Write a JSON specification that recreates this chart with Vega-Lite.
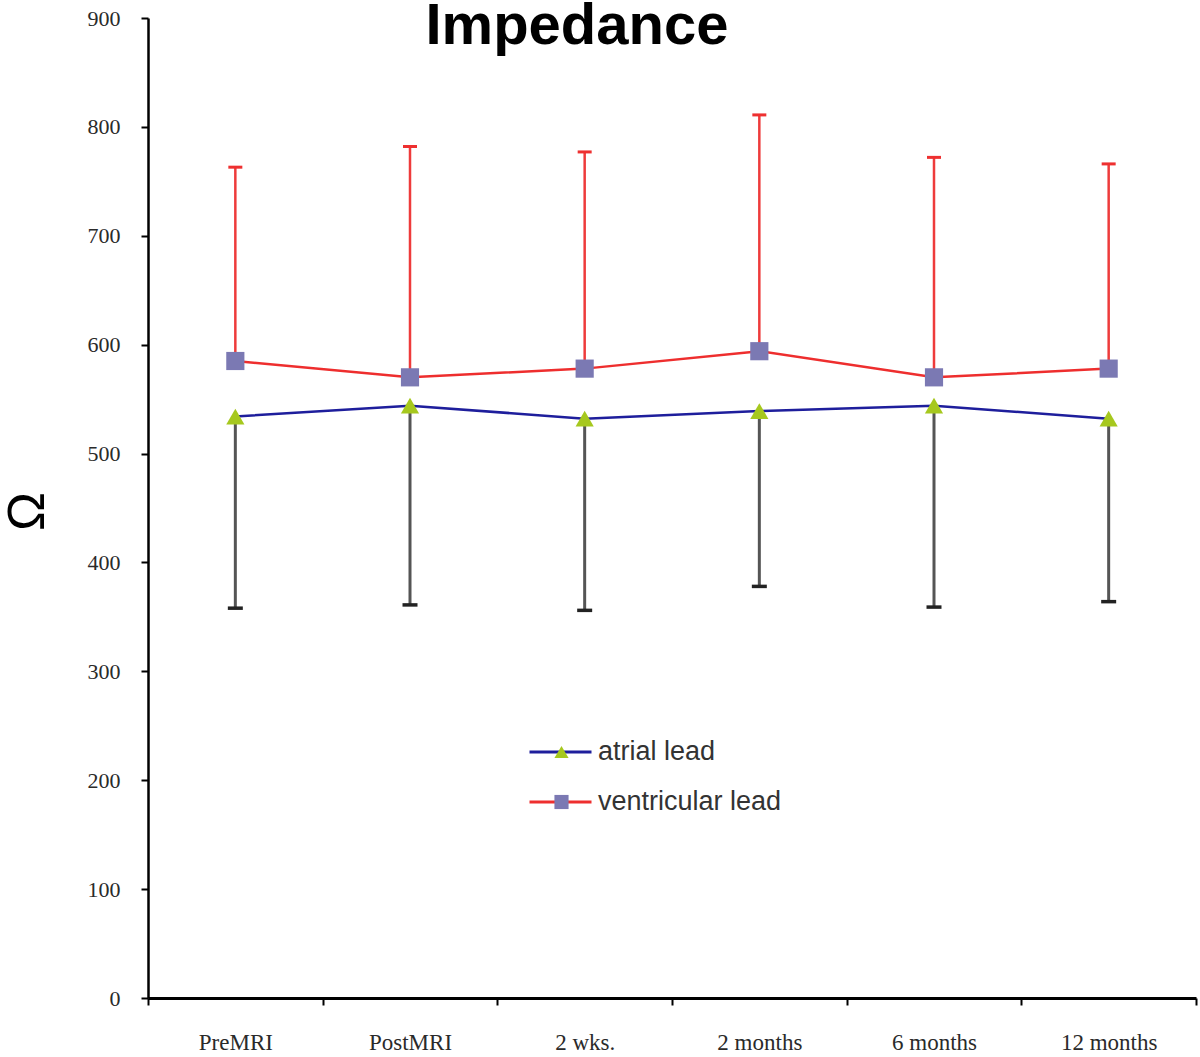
{
  "$schema": "https://vega.github.io/schema/vega-lite/v6.json",
  "autosize": {"type": "none"},
  "padding": {"left": 148, "top": 18, "right": 4, "bottom": 59},
  "width": 1048,
  "height": 980,
  "background": "white",
  "title": {
    "text": "Impedance",
    "font": "Liberation Sans",
    "fontSize": 58,
    "fontWeight": "bold",
    "color": "black",
    "anchor": "middle",
    "frame": "group",
    "dx": -95,
    "dy": 95,
    "baseline": "alphabetic",
    "offset": 0
  },
  "data": {
    "values": [
      {"time": "PreMRI", "lead": "atrial lead", "mean": 534, "bound": 358},
      {"time": "PostMRI", "lead": "atrial lead", "mean": 544, "bound": 361},
      {"time": "2 wks.", "lead": "atrial lead", "mean": 532, "bound": 356},
      {"time": "2 months", "lead": "atrial lead", "mean": 539, "bound": 378},
      {"time": "6 months", "lead": "atrial lead", "mean": 544, "bound": 359},
      {"time": "12 months", "lead": "atrial lead", "mean": 532, "bound": 364},
      {"time": "PreMRI", "lead": "ventricular lead", "mean": 585, "bound": 763},
      {"time": "PostMRI", "lead": "ventricular lead", "mean": 570, "bound": 782},
      {"time": "2 wks.", "lead": "ventricular lead", "mean": 578, "bound": 777},
      {"time": "2 months", "lead": "ventricular lead", "mean": 594, "bound": 811},
      {"time": "6 months", "lead": "ventricular lead", "mean": 570, "bound": 772},
      {"time": "12 months", "lead": "ventricular lead", "mean": 578, "bound": 766}
    ]
  },
  "encoding": {
    "x": {
      "field": "time",
      "type": "nominal",
      "sort": ["PreMRI", "PostMRI", "2 wks.", "2 months", "6 months", "12 months"],
      "scale": {"type": "band", "paddingInner": 0, "paddingOuter": 0},
      "axis": {
        "title": null,
        "labelAngle": 0,
        "labelFont": "Liberation Serif",
        "labelFontSize": 23,
        "labelColor": "#2a2a2a",
        "labelPadding": 26,
        "tickBand": "extent",
        "tickSize": 7,
        "tickWidth": 2,
        "tickColor": "black",
        "domainColor": "black",
        "domainWidth": 3
      }
    }
  },
  "layer": [
    {
      "transform": [{"filter": "datum.lead === 'ventricular lead'"}],
      "mark": {"type": "rule", "color": "#ee3b3b", "strokeWidth": 2.5},
      "encoding": {
        "y": {"field": "mean", "type": "quantitative"},
        "y2": {"field": "bound"}
      }
    },
    {
      "transform": [{"filter": "datum.lead === 'ventricular lead'"}],
      "mark": {"type": "tick", "orient": "horizontal", "color": "#ee3030", "size": 14, "thickness": 3, "opacity": 1},
      "encoding": {
        "y": {"field": "bound", "type": "quantitative"}
      }
    },
    {
      "transform": [{"filter": "datum.lead === 'atrial lead'"}],
      "mark": {"type": "rule", "color": "#555555", "strokeWidth": 3},
      "encoding": {
        "y": {"field": "mean", "type": "quantitative"},
        "y2": {"field": "bound"}
      }
    },
    {
      "transform": [{"filter": "datum.lead === 'atrial lead'"}],
      "mark": {"type": "tick", "orient": "horizontal", "color": "#222222", "size": 15, "thickness": 3.5, "opacity": 1},
      "encoding": {
        "y": {"field": "bound", "type": "quantitative"}
      }
    },
    {
      "mark": {"type": "line", "strokeWidth": 2.5},
      "encoding": {
        "y": {
          "field": "mean",
          "type": "quantitative",
          "scale": {"domain": [0, 900], "nice": false},
          "axis": {
            "title": "Ω",
            "titleFont": "Liberation Sans",
            "titleFontSize": 52,
            "titleFontWeight": "normal",
            "titleColor": "black",
            "titleX": -121,
            "titleY": 493,
            "titleAlign": "center",
            "titleBaseline": "middle",
            "values": [0, 100, 200, 300, 400, 500, 600, 700, 800, 900],
            "grid": false,
            "labelFont": "Liberation Serif",
            "labelFontSize": 22,
            "labelColor": "#2a2a2a",
            "labelPadding": 21,
            "tickSize": 7,
            "tickWidth": 2,
            "tickColor": "black",
            "domainColor": "black",
            "domainWidth": 2.5
          }
        },
        "stroke": {
          "field": "lead",
          "type": "nominal",
          "scale": {"range": ["#1e1e9c", "#ee2e2e"]},
          "legend": {
            "title": null,
            "orient": "none",
            "legendX": 380,
            "legendY": 719,
            "padding": 0,
            "symbolType": "stroke",
            "symbolSize": 3844,
            "symbolStrokeWidth": 3,
            "clipHeight": 30,
            "rowPadding": 20,
            "labelFont": "Liberation Sans",
            "labelFontSize": 27,
            "labelLimit": 400,
            "labelColor": "#333333",
            "labelOffset": 5
          }
        }
      }
    },
    {
      "transform": [{"calculate": "datum.lead", "as": "marker"}],
      "mark": {"type": "point", "filled": true, "opacity": 1, "size": 330},
      "encoding": {
        "y": {"field": "mean", "type": "quantitative"},
        "shape": {
          "field": "marker",
          "type": "nominal",
          "scale": {"range": ["triangle-up", "square"]},
          "legend": {
            "title": null,
            "orient": "none",
            "legendX": 400,
            "legendY": 719,
            "padding": 0,
            "symbolSize": 200,
            "symbolStrokeWidth": 0,
            "clipHeight": 30,
            "rowPadding": 20,
            "labelExpr": "''",
            "labelFontSize": 27
          }
        },
        "fill": {
          "field": "marker",
          "type": "nominal",
          "scale": {"range": ["#a6c81e", "#7b79b3"]},
          "legend": {
            "title": null,
            "orient": "none",
            "legendX": 400,
            "legendY": 719,
            "padding": 0,
            "symbolSize": 200,
            "symbolStrokeWidth": 0,
            "clipHeight": 30,
            "rowPadding": 20,
            "labelExpr": "''",
            "labelFontSize": 27
          }
        }
      }
    }
  ],
  "config": {
    "view": {"stroke": null}
  }
}
